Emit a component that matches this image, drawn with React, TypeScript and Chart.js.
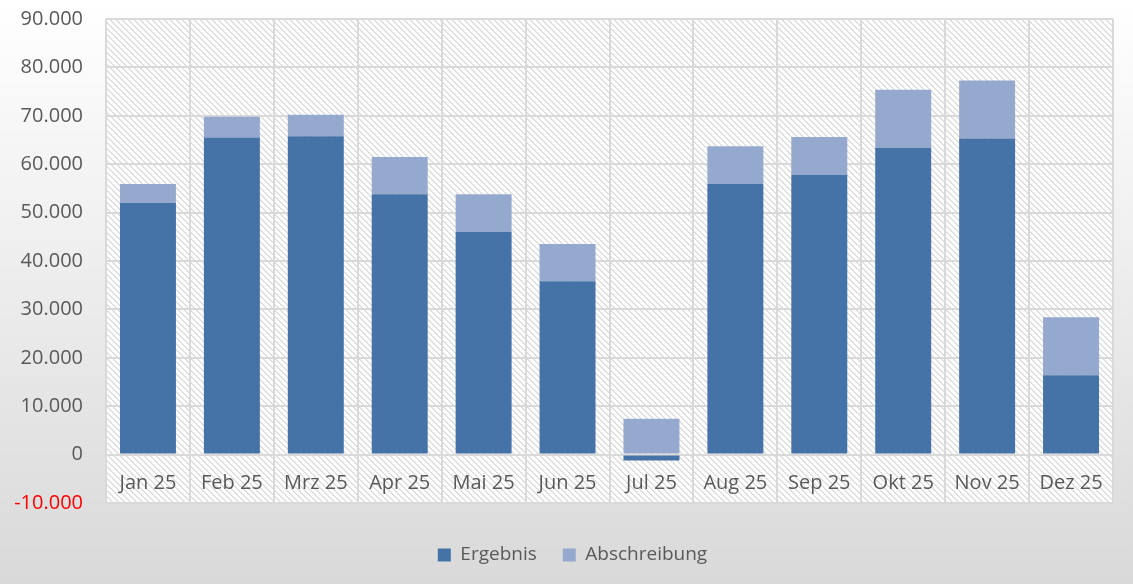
import React, { useEffect, useRef } from 'react';
import { Chart, registerables } from 'chart.js';

Chart.register(...registerables);

const categories = ['Jan 25', 'Feb 25', 'Mrz 25', 'Apr 25', 'Mai 25', 'Jun 25', 'Jul 25', 'Aug 25', 'Sep 25', 'Okt 25', 'Nov 25', 'Dez 25'];
const ergebnis = [52000, 65500, 65800, 53800, 46000, 35800, -1200, 55900, 57800, 63400, 65300, 16400];
const abschreibung = [3900, 4300, 4400, 7700, 7800, 7700, 7400, 7800, 7800, 12000, 12000, 12000];
const seriesNames = ['Ergebnis', 'Abschreibung'];
const yMin = -10000;
const yMax = 90000;
const yStep = 10000;

const FONT = 'Open Sans';
const TEXT = '#595959';
const GRID = '#d9d9d9';

function fmt(v: number): string {
  const s = String(Math.abs(Math.round(v))).replace(/\B(?=(\d{3})+(?!\d))/g, '.');
  return (v < 0 ? '-' : '') + s;
}

function makeTile(): HTMLCanvasElement {
  const n = 6;
  const c = document.createElement('canvas');
  c.width = n;
  c.height = n;
  const g = c.getContext('2d')!;
  g.fillStyle = '#ffffff';
  g.fillRect(0, 0, n, n);
  g.fillStyle = '#d9d9d9';
  for (let i = 0; i < n; i++) g.fillRect(i, i, 1, 1);
  g.fillStyle = '#e6e6e6';
  for (let i = 0; i < n; i++) g.fillRect((i + 1) % n, i, 1, 1);
  return c;
}

const zeroPad = (s: any) => {
  s.paddingLeft = 0;
  s.paddingRight = 0;
  s.paddingTop = 0;
  s.paddingBottom = 0;
};

export default function App() {
  const ref = useRef<HTMLCanvasElement>(null);

  useEffect(() => {
    if (!ref.current) return;
    const tile = makeTile();
    const hatchPlugin = {
      id: 'hatch',
      afterLayout(chart: any) {
        const lg = chart.legend;
        if (lg) {
          lg.left += 10;
          lg.right += 10;
        }
      },
      beforeDraw(chart: any) {
        const { ctx, chartArea: a } = chart;
        ctx.save();
        const pat = ctx.createPattern(tile, 'repeat');
        ctx.fillStyle = pat || '#ffffff';
        ctx.fillRect(a.left, a.top, a.right - a.left, a.bottom - a.top);
        ctx.restore();
      },
    };
    const chart = new Chart(ref.current, {
      type: 'bar',
      data: {
        labels: categories,
        datasets: [
          {
            label: seriesNames[0],
            data: ergebnis,
            backgroundColor: '#4572a7',
            borderWidth: 0,
            barPercentage: 0.667,
            categoryPercentage: 1.0,
          },
          {
            label: seriesNames[1],
            data: abschreibung,
            backgroundColor: '#95a8ce',
            borderWidth: 0,
            barPercentage: 0.667,
            categoryPercentage: 1.0,
          },
        ],
      },
      options: {
        responsive: false,
        animation: false,
        layout: { padding: { left: 12, right: 20, top: 19, bottom: 9.5 } },
        plugins: {
          legend: {
            position: 'bottom',
            title: {
              display: true,
              text: '',
              font: { size: 1, lineHeight: 1 },
              padding: { top: 0, bottom: 15.5 },
            },
            labels: {
              boxWidth: 13,
              boxHeight: 13,
              padding: 26,
              color: TEXT,
              font: { family: FONT, size: 19 },
            },
          },
          tooltip: { enabled: false },
        },
        scales: {
          x: {
            stacked: true,
            position: { y: 0 } as any,
            grid: { color: GRID, lineWidth: 2, drawTicks: false, offset: true },
            border: { display: false },
            afterFit: zeroPad,
            ticks: {
              color: TEXT,
              font: { family: FONT, size: 20 },
              padding: 17,
              maxRotation: 0,
              autoSkip: false,
            },
          },
          y: {
            stacked: true,
            min: yMin,
            max: yMax,
            grid: { color: GRID, lineWidth: 2, drawTicks: false },
            border: { display: false },
            afterFit: (s: any) => {
              zeroPad(s);
              s.width = 94;
            },
            ticks: {
              stepSize: yStep,
              padding: 23,
              font: { family: FONT, size: 20 },
              color: (c: any) => (c.tick && c.tick.value < 0 ? '#ff0000' : TEXT),
              callback: (v: any) => fmt(Number(v)),
            },
          },
        },
      },
      plugins: [hatchPlugin],
    });
    return () => chart.destroy();
  }, []);

  return (
    <div
      style={{
        position: 'absolute',
        left: 0,
        top: 0,
        width: 1133,
        height: 584,
        background: 'linear-gradient(to bottom, #ffffff 0%, #d9d9d9 100%)',
      }}
    >
      <canvas ref={ref} width={1133} height={584} style={{ display: 'block' }} />
    </div>
  );
}
